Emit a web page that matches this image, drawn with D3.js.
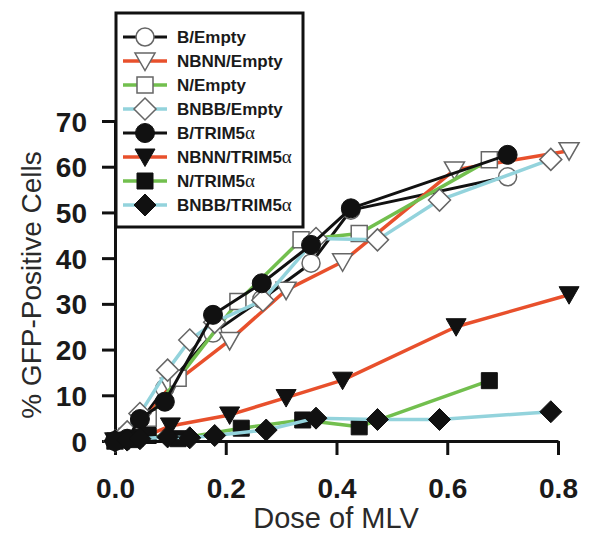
<!DOCTYPE html>
<html>
<head>
<meta charset="utf-8">
<script src="https://cdnjs.cloudflare.com/ajax/libs/d3/7.8.5/d3.min.js"></script>
<style>
  body { margin: 0; background: #fff; }
  text { font-family: "Liberation Sans", Arial, sans-serif; }
  .tick text { font-size: 28px; font-weight: bold; fill: #1a1a1a; }
  .legend text { font-size: 17px; font-weight: bold; fill: #1a1a1a; }
</style>
</head>
<body>
<div id="chart"></div>
<script>
// data
var seriesNames = ['B/Empty', 'NBNN/Empty', 'N/Empty', 'BNBB/Empty',
                   'B/TRIM5', 'NBNN/TRIM5', 'N/TRIM5', 'BNBB/TRIM5'];

var bEmptyDose = [0, 0.022, 0.045, 0.09, 0.177, 0.265, 0.354, 0.426, 0.709];
var bEmptyPct  = [0, 1.5, 4.2, 11.5, 23.6, 31, 38.9, 50.5, 57.8];

var nbnnEmptyDose = [0, 0.025, 0.05, 0.1, 0.207, 0.309, 0.411, 0.613, 0.82];
var nbnnEmptyPct  = [0, 1, 4, 12, 22, 33, 39.2, 59.3, 63.5];

var nEmptyDose = [0, 0.03, 0.06, 0.114, 0.222, 0.336, 0.441, 0.676];
var nEmptyPct  = [0, 1.5, 5, 13.7, 30.5, 44, 45.4, 61.5];

var bnbbEmptyDose = [0, 0.022, 0.045, 0.095, 0.135, 0.18, 0.267, 0.363, 0.474, 0.586, 0.787];
var bnbbEmptyPct  = [0, 2, 6, 15.5, 22.1, 26, 30.8, 44.3, 44, 52.7, 61.6];

var bTrimDose = [0, 0.022, 0.045, 0.09, 0.177, 0.265, 0.354, 0.426, 0.709];
var bTrimPct  = [0, 0.5, 4.8, 8.6, 27.6, 34.5, 42.9, 50.9, 62.6];

var nbnnTrimDose = [0, 0.025, 0.05, 0.1, 0.207, 0.309, 0.411, 0.616, 0.82];
var nbnnTrimPct  = [0, 0.2, 0.8, 3.3, 5.7, 9.5, 13.3, 25, 32];

var nTrimDose = [0, 0.03, 0.06, 0.114, 0.228, 0.339, 0.441, 0.676];
var nTrimPct  = [0, 0.3, 1.2, 0.5, 2.8, 4.6, 3.1, 13.2];

var bnbbTrimDose = [0, 0.022, 0.045, 0.095, 0.135, 0.18, 0.273, 0.363, 0.474, 0.586, 0.787];
var bnbbTrimPct  = [0, 0.2, 0.5, 0.9, 0.7, 1.2, 2.4, 5.0, 4.7, 4.7, 6.4];

var xTicks = [0, 0.2, 0.4, 0.6, 0.8];
var yTicks = [0, 10, 20, 30, 40, 50, 60, 70];

(function (d3) {
  'use strict';
  var width = 600, height = 542;
  var red = '#e8502c', green = '#72bf4e', cyan = '#93d3dc', black = '#111';

  // marker shapes, r ~ half size
  var shapes = {
    circle: function (r) { return d3.symbol(d3.symbolCircle, Math.PI * r * r)(); },
    square: function (r) { return 'M' + (-r) + ',' + (-r) + 'H' + r + 'V' + r + 'H' + (-r) + 'Z'; },
    diamond: function (r) { return 'M0,' + (-r) + 'L' + r + ',0L0,' + r + 'L' + (-r) + ',0Z'; },
    triangle: function (r) { return 'M' + (-r) + ',' + (-r * 0.8) + 'L' + r + ',' + (-r * 0.8) + 'L0,' + (r * 0.95) + 'Z'; }
  };

  var series = [
    { name: seriesNames[0], dose: bEmptyDose, pct: bEmptyPct, line: black, lw: 3, shape: 'circle', r: 9, filled: false },
    { name: seriesNames[1], dose: nbnnEmptyDose, pct: nbnnEmptyPct, line: red, lw: 3.5, shape: 'triangle', r: 10, filled: false },
    { name: seriesNames[2], dose: nEmptyDose, pct: nEmptyPct, line: green, lw: 3.5, shape: 'square', r: 8, filled: false },
    { name: seriesNames[3], dose: bnbbEmptyDose, pct: bnbbEmptyPct, line: cyan, lw: 3.5, shape: 'diamond', r: 11, filled: false },
    { name: seriesNames[4], dose: bTrimDose, pct: bTrimPct, line: black, lw: 3, shape: 'circle', r: 9.5, filled: true },
    { name: seriesNames[5], dose: nbnnTrimDose, pct: nbnnTrimPct, line: red, lw: 3.5, shape: 'triangle', r: 10, filled: true },
    { name: seriesNames[6], dose: nTrimDose, pct: nTrimPct, line: green, lw: 3.5, shape: 'square', r: 8, filled: true },
    { name: seriesNames[7], dose: bnbbTrimDose, pct: bnbbTrimPct, line: cyan, lw: 3.5, shape: 'diamond', r: 11, filled: true }
  ];

  var svg = d3.select('#chart').append('svg')
    .attr('width', width).attr('height', height);

  var x = d3.scaleLinear().domain([0, 0.8]).range([115, 558]);
  var y = d3.scaleLinear().domain([0, 70]).range([441, 121]);

  // axes
  var xAxis = svg.append('g')
    .attr('transform', 'translate(0,' + y(0) + ')')
    .call(d3.axisBottom(x).tickValues(xTicks).tickFormat(d3.format('.1f'))
      .tickSize(14).tickSizeOuter(0).tickPadding(18));
  var yAxis = svg.append('g')
    .attr('transform', 'translate(' + x(0) + ',0)')
    .call(d3.axisLeft(y).tickValues(yTicks).tickSize(13).tickSizeOuter(0).tickPadding(15));
  [xAxis, yAxis].forEach(function (a) {
    a.select('.domain').attr('stroke', black).attr('stroke-width', 3);
    a.selectAll('.tick line').attr('stroke', black).attr('stroke-width', 3);
  });
  xAxis.selectAll('.tick text').attr('dy', '0.9em');
  yAxis.selectAll('.tick text').attr('dy', '0.36em');

  // axis titles
  svg.append('text')
    .attr('transform', 'translate(41,285) rotate(-90)')
    .attr('text-anchor', 'middle')
    .style('font-size', '28px').style('fill', '#2a2a2a')
    .text('% GFP-Positive Cells');
  svg.append('text')
    .attr('x', 336).attr('y', 528)
    .attr('text-anchor', 'middle')
    .style('font-size', '29px').style('fill', '#2a2a2a')
    .text('Dose of MLV');

  var line = d3.line()
    .x(function (d) { return x(d[0]); })
    .y(function (d) { return y(d[1]); });

  var plot = svg.append('g');
  series.forEach(function (s) {
    var pts = d3.zip(s.dose, s.pct);
    var g = plot.append('g');
    g.append('path')
      .attr('d', line(pts))
      .attr('fill', 'none')
      .attr('stroke', s.line)
      .attr('stroke-width', s.lw)
      .attr('stroke-linejoin', 'round');
    g.selectAll('path.m')
      .data(pts)
      .enter()
      .append('path')
      .attr('class', 'm')
      .attr('transform', function (d) { return 'translate(' + x(d[0]) + ',' + y(d[1]) + ')'; })
      .attr('d', shapes[s.shape](s.r))
      .attr('fill', s.filled ? black : '#fff')
      .attr('stroke', s.filled ? black : '#666')
      .attr('stroke-width', s.filled ? 1 : 1.5);
  });

  // legend
  var legendBox = svg.append('g').attr('class', 'legend');
  legendBox.append('rect')
    .attr('x', 116).attr('y', 13).attr('width', 187).attr('height', 214)
    .attr('fill', '#fff').attr('stroke', black).attr('stroke-width', 3);

  var legendRowH = 24;
  var legend = legendBox.selectAll('.item')
    .data(series)
    .enter()
    .append('g')
    .attr('class', 'item')
    .attr('transform', function (d, i) { return 'translate(145,' + (37 + i * legendRowH) + ')'; });

  legend.append('line')
    .attr('x1', -22).attr('x2', 22)
    .attr('stroke', function (d) { return d.line; })
    .attr('stroke-width', function (d) { return d.lw; });
  legend.append('path')
    .attr('d', function (d) { return shapes[d.shape](d.r); })
    .attr('fill', function (d) { return d.filled ? black : '#fff'; })
    .attr('stroke', function (d) { return d.filled ? black : '#666'; })
    .attr('stroke-width', function (d) { return d.filled ? 1 : 1.5; });

  var txt = legend.append('text')
    .attr('x', 32).attr('y', 6);
  txt.append('tspan').text(function (d) { return d.name; });
  txt.filter(function (d) { return d.name.indexOf('TRIM5') >= 0; })
    .append('tspan')
    .style('font-family', '"Liberation Serif", "DejaVu Serif", serif')
    .style('font-weight', 'normal')
    .style('font-size', '19px')
    .text('\u03b1');
})(window.d3);
</script>
</body>
</html>
